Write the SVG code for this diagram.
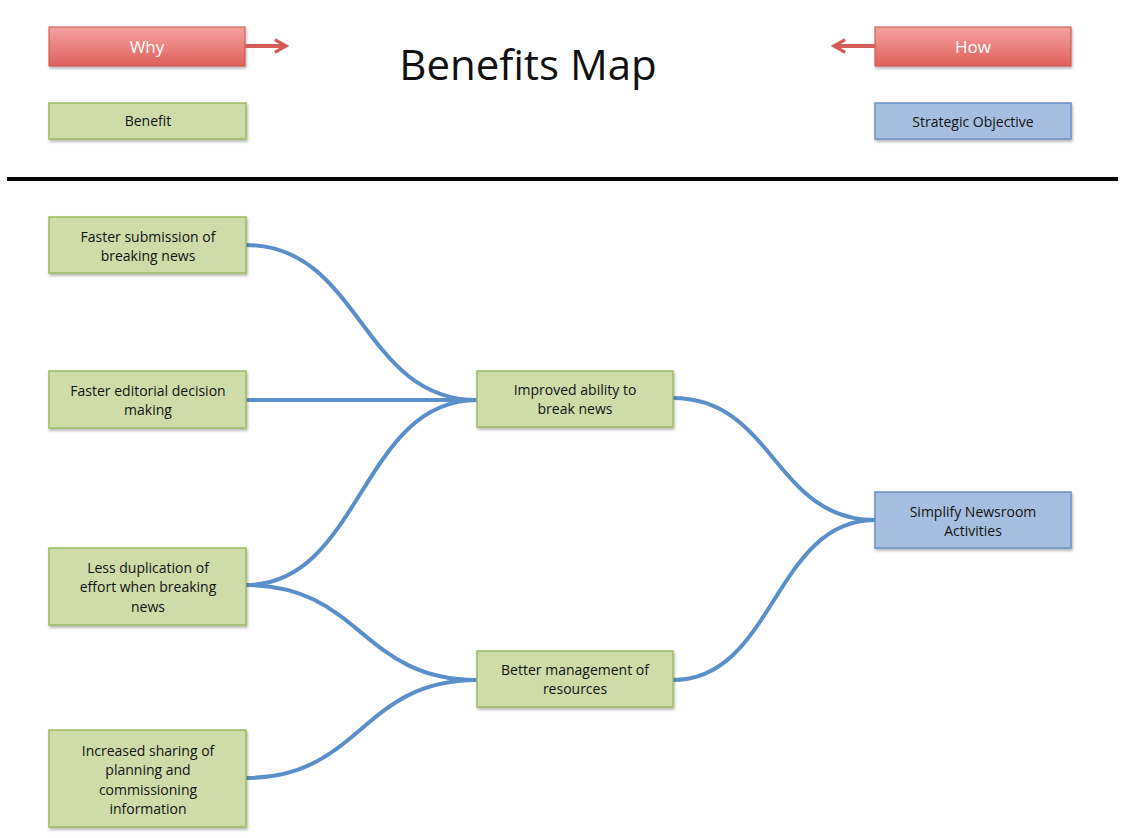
<svg xmlns="http://www.w3.org/2000/svg" width="1126" height="838" viewBox="0 0 1126 838">
<defs>
<linearGradient id="red" x1="0" y1="0" x2="0" y2="1"><stop offset="0" stop-color="#f5a3a1"/><stop offset="1" stop-color="#de5f5b"/></linearGradient>
<marker id="ah" viewBox="0 0 10 10" refX="8" refY="5" markerWidth="4" markerHeight="4" orient="auto"><path d="M1,1 L8,5 L1,9" fill="none" stroke="#d45c59" stroke-width="2"/></marker>
<filter id="sh" x="-10%" y="-20%" width="120%" height="150%"><feDropShadow dx="1" dy="2" stdDeviation="1.5" flood-color="#000" flood-opacity="0.3"/></filter>
</defs>
<style>
.g{fill:#cfdcaa;stroke:#9dbb62;stroke-width:1.5;filter:url(#sh)}
.b{fill:#a6bfe0;stroke:#6b90c4;stroke-width:1.5;filter:url(#sh)}
.r{fill:url(#red);stroke:#c9504c;stroke-width:1;filter:url(#sh)}
text{font-family:"Open Sans","Liberation Sans",sans-serif;font-size:14px;fill:#111;text-anchor:middle}
.w{fill:#fff;font-size:17px}
.c{fill:none;stroke:#5b8fc9;stroke-width:4}
</style>
<rect width="1126" height="838" fill="#fff"/>
<g id="why"><rect class="r" x="49" y="27" width="196" height="39"/><text class="w" x="147" y="53">Why</text></g>
<g id="how"><rect class="r" x="875" y="27" width="196" height="39"/><text class="w" x="973" y="53">How</text></g>
<g id="arrows"><line x1="245" y1="46" x2="286" y2="46" stroke="#d45c59" stroke-width="4" marker-end="url(#ah)"/><line x1="875" y1="46" x2="834" y2="46" stroke="#d45c59" stroke-width="4" marker-end="url(#ah)"/></g>
<text x="528" y="80" style="font-size:42px">Benefits Map</text>
<g id="legend-benefit"><rect class="g" x="49" y="103" width="197" height="36"/><text x="148" y="126">Benefit</text></g>
<g id="legend-objective"><rect class="b" x="875" y="103" width="196" height="36"/><text x="973" y="127">Strategic Objective</text></g>
<line x1="7" y1="179" x2="1118" y2="179" stroke="#000" stroke-width="4"/>
<g id="connectors">
<path class="c" d="M246,245 C361,245 361,400 477,400"/>
<path class="c" d="M246,400 L477,400"/>
<path class="c" d="M246,585 C361,585 361,400 477,400"/>
<path class="c" d="M246,585 C361,585 361,680 477,680"/>
<path class="c" d="M246,778 C361,778 361,680 477,680"/>
<path class="c" d="M673,398 C774,398 774,520 875,520"/>
<path class="c" d="M673,680 C774,680 774,520 875,520"/>
</g>
<g id="n1"><rect class="g" x="49" y="217" width="197" height="56"/><text x="148" y="242">Faster submission of</text><text x="148" y="261">breaking news</text></g>
<g id="n2"><rect class="g" x="49" y="371" width="197" height="57"/><text x="148" y="396">Faster editorial decision</text><text x="148" y="415">making</text></g>
<g id="n3"><rect class="g" x="49" y="548" width="197" height="77"/><text x="148" y="573">Less duplication of</text><text x="148" y="592">effort when breaking</text><text x="148" y="612">news</text></g>
<g id="n4"><rect class="g" x="49" y="730" width="197" height="97"/><text x="148" y="756">Increased sharing of</text><text x="148" y="775">planning and</text><text x="148" y="795">commissioning</text><text x="148" y="814">information</text></g>
<g id="m1"><rect class="g" x="477" y="371" width="196" height="56"/><text x="575" y="395">Improved ability to</text><text x="575" y="414">break news</text></g>
<g id="m2"><rect class="g" x="477" y="651" width="196" height="56"/><text x="575" y="675">Better management of</text><text x="575" y="694">resources</text></g>
<g id="r1"><rect class="b" x="875" y="492" width="196" height="56"/><text x="973" y="517">Simplify Newsroom</text><text x="973" y="536">Activities</text></g>
</svg>
